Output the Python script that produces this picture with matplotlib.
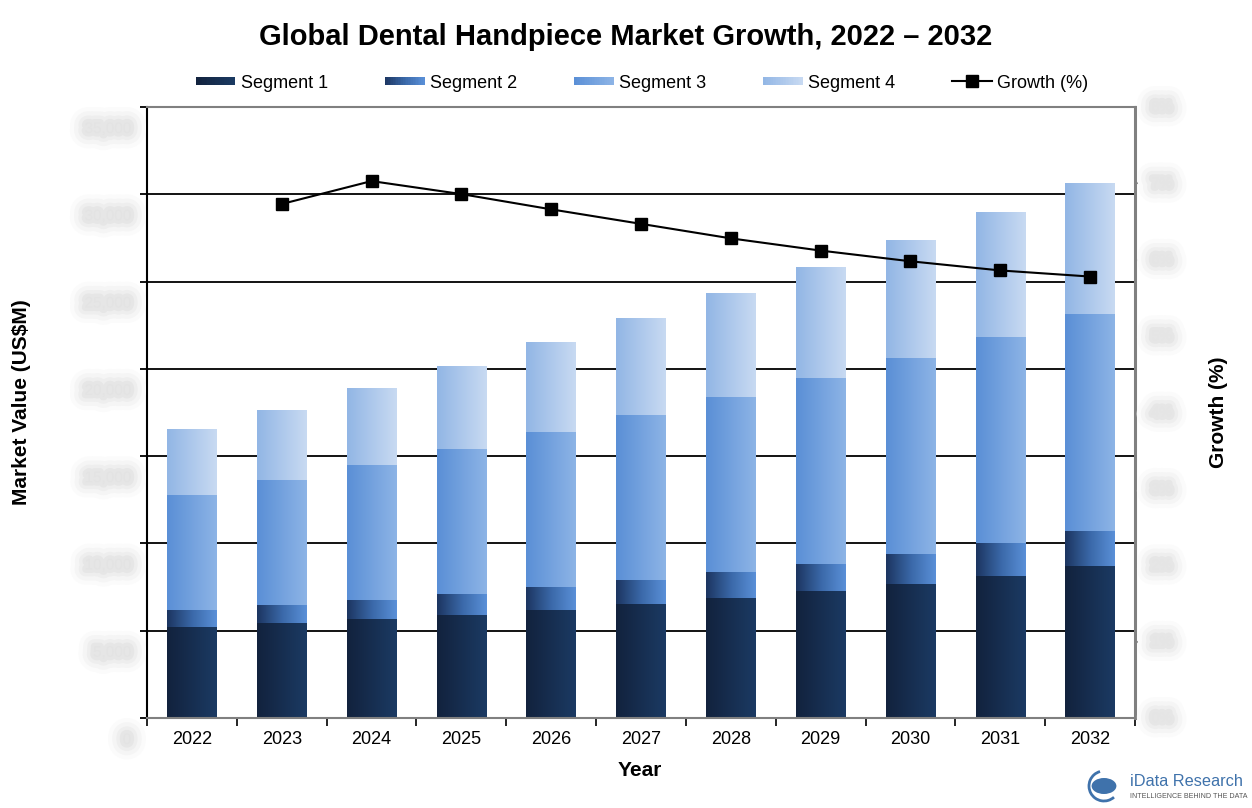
import numpy as np
import matplotlib
matplotlib.use('Agg')
import matplotlib.pyplot as plt
from matplotlib.colors import LinearSegmentedColormap
from matplotlib.legend_handler import HandlerBase
from matplotlib.patches import Rectangle, Circle, Arc
from matplotlib.lines import Line2D
import matplotlib.patheffects as pe
import matplotlib.transforms as mtransforms

plt.rcParams['font.family'] = ['Liberation Sans', 'DejaVu Sans']

# data
years = ['2022', '2023', '2024', '2025', '2026', '2027', '2028', '2029', '2030', '2031', '2032']
seg1 = [5220, 5450, 5680, 5905, 6190, 6540, 6880, 7280, 7685, 8140, 8715]
seg2 = [975, 1030, 1090, 1205, 1320, 1375, 1490, 1550, 1720, 1895, 2005]
seg3 = [6595, 7170, 7740, 8315, 8890, 9460, 10035, 10665, 11240, 11810, 12440]
seg4 = [3725, 3955, 4360, 4700, 5105, 5505, 5905, 6310, 6710, 7110, 7455]
growth = [np.nan, 6.73, 7.03, 6.86, 6.66, 6.47, 6.28, 6.12, 5.98, 5.86, 5.78]
left_ticks = ['0', '5,000', '10,000', '15,000', '20,000', '25,000', '30,000', '35,000']
right_ticks = ['0%', '1%', '2%', '3%', '4%', '5%', '6%', '7%', '8%']

seg_names = ['Segment 1', 'Segment 2', 'Segment 3', 'Segment 4']
cmaps = [
    LinearSegmentedColormap.from_list('s1', ['#12223d', '#1b3a63']),
    LinearSegmentedColormap.from_list('s2', ['#1c3560', '#3a68a8', '#5a90d8']),
    LinearSegmentedColormap.from_list('s3', ['#5a8fd6', '#8db4e6']),
    LinearSegmentedColormap.from_list('s4', ['#92b6e5', '#c8daf2']),
]

fig = plt.figure(figsize=(12.52, 8.08), dpi=100)
ax = fig.add_axes([147/1252, 1-718/808, 988/1252, 611/808])

x = np.arange(len(years))
width = 0.55
grad = np.linspace(0, 1, 128).reshape(1, -1)
bottom = np.zeros(len(years))
for vals, cm in zip([seg1, seg2, seg3, seg4], cmaps):
    for i, v in enumerate(vals):
        ax.imshow(grad, cmap=cm, extent=[x[i]-width/2, x[i]+width/2, bottom[i], bottom[i]+v],
                  aspect='auto', interpolation='bilinear', zorder=2)
    bottom += np.array(vals)

ax.set_xlim(-0.5, len(years)-0.5)
ax.set_ylim(0, 35000)
ax.set_yticks(np.arange(0, 35001, 5000))
ax.grid(axis='y', color='black', lw=1.3)
ax.set_axisbelow(True)
ax.tick_params(axis='y', direction='out', length=5, width=1.3, color='black', labelleft=False)
ax.set_xticks(x)
ax.set_xticklabels(years, fontsize=13)
ax.tick_params(axis='x', length=0, pad=9)
ax.set_xticks(np.arange(-0.5, len(years), 1), minor=True)
ax.tick_params(axis='x', which='minor', direction='out', length=6, width=1.2, color='black')
ax.spines['left'].set_color('black')
ax.spines['left'].set_linewidth(1.5)
ax.spines['bottom'].set_color('#808080')
ax.spines['bottom'].set_linewidth(1.5)
ax.spines['top'].set_color('#808080')
ax.spines['top'].set_linewidth(1.5)
ax.spines['right'].set_visible(False)

ax2 = ax.twinx()
ax2.set_ylim(0, 8)
ax2.set_yticks(np.arange(0, 9, 1))
ax2.tick_params(axis='y', direction='out', length=5, width=1.5, color='#808080', labelright=False)
for s in ['left', 'top', 'bottom']:
    ax2.spines[s].set_visible(False)
ax2.spines['right'].set_color('#808080')
ax2.spines['right'].set_linewidth(2.2)
ax2.plot(x, growth, color='black', lw=1.5, marker='s', ms=8.5, mfc='black', mec='black', zorder=5)

# blurred tick labels
blur = [pe.Stroke(linewidth=22, foreground='#fbfbfb'), pe.Stroke(linewidth=16, foreground='#f5f5f5'),
        pe.Stroke(linewidth=10, foreground='#eeeeee'), pe.Stroke(linewidth=5, foreground='#e6e6e6'),
        pe.Normal()]
tl = mtransforms.offset_copy(ax.get_yaxis_transform(), fig=fig, x=0, y=-22, units='dots')
for v, s in zip(np.arange(0, 35001, 5000), left_ticks):
    ax.text(-0.016, v, s, transform=tl, ha='right', va='center', fontsize=11,
            color='#e3e3e3', path_effects=blur, clip_on=False)
for v, s in zip(np.arange(0, 9, 1), right_ticks):
    ax2.text(1.027, v, s, transform=ax2.get_yaxis_transform(), ha='center', va='center', fontsize=10,
             color='#e5e5e5', path_effects=blur, clip_on=False)

# titles and labels
fig.text(0.5, 1-37/808, 'Global Dental Handpiece Market Growth, 2022 \u2013 2032',
         ha='center', va='center', fontsize=21, weight='bold')
fig.text(22/1252, 1-402/808, r'Market Value (US\$M)', rotation=90, ha='center', va='center',
         fontsize=15, weight='bold')
fig.text(1218/1252, 1-412/808, 'Growth (%)', rotation=90, ha='center', va='center',
         fontsize=15, weight='bold')
fig.text(640/1252, 1-770/808, 'Year', ha='center', va='center', fontsize=15, weight='bold')


class GradHandler(HandlerBase):
    def __init__(self, cmap):
        super().__init__()
        self.cmap = cmap

    def create_artists(self, legend, orig_handle, xdescent, ydescent, width, height, fontsize, trans):
        n = 24
        h = height*0.65
        y0 = -ydescent + (height - h)/2
        arts = []
        for i in range(n):
            arts.append(Rectangle((-xdescent + width*i/n, y0), width/n*1.05, h,
                                  facecolor=self.cmap((i+0.5)/n), edgecolor='none', transform=trans))
        return arts


handles = [Rectangle((0, 0), 1, 1) for _ in seg_names]
hmap = {h: GradHandler(c) for h, c in zip(handles, cmaps)}
gline = Line2D([], [], color='black', lw=1.5, marker='s', ms=8.5)
fig.legend(handles + [gline], seg_names + ['Growth (%)'], handler_map=hmap,
           loc='center', bbox_to_anchor=(642/1252, 1-83/808), ncol=5, frameon=False, fontsize=13,
           handlelength=2.2, handletextpad=0.3, columnspacing=3.15)

# logo
logo_blue = '#3f72ab'
fig.text(1130/1252, 1-782/808, 'iData Research', ha='left', va='center', fontsize=11.7, color=logo_blue)
fig.text(1130/1252, 1-797/808, 'INTELLIGENCE BEHIND THE DATA', ha='left', va='center', fontsize=5.1,
         color='#555555')
fig.patches.append(Circle((1104/1252, 1-786/808), 8/808, transform=fig.transFigure,
                          facecolor=logo_blue, edgecolor='none'))
fig.patches.append(Arc((1104/1252, 1-786/808), 30/1252, 30/808, theta1=100, theta2=300,
                       transform=fig.transFigure, color=logo_blue, lw=2))

fig.savefig('out.png', dpi=100)
